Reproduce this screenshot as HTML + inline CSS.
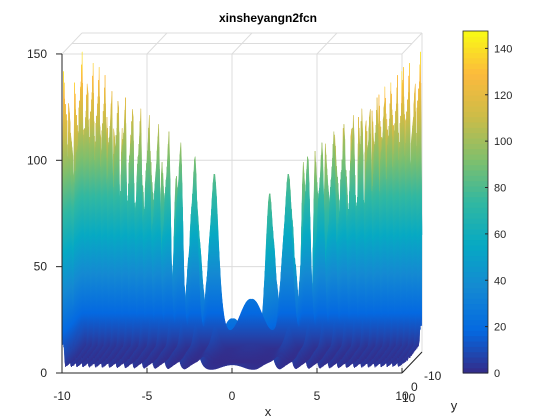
<!DOCTYPE html>
<html><head><meta charset="utf-8"><style>
body{margin:0;background:#fff}
svg{display:block;font-family:"Liberation Sans",Arial,sans-serif}
</style></head><body>
<svg id="c" width="560" height="420" viewBox="0 0 560 420">
<rect width="560" height="420" fill="#fff"/>
<defs id="defs"></defs>
<g id="grid"></g>
<g id="surf"></g>
<g id="axes"></g>
<g id="cbar"></g>
<text x="268" y="22" text-anchor="middle" font-size="12" font-weight="bold" fill="#000">xinsheyangn2fcn</text>
<text x="268" y="416" text-anchor="middle" font-size="13" fill="#262626">x</text>
<text x="454" y="410" text-anchor="middle" font-size="13" fill="#262626">y</text>
</svg>
<script>
const xRange = [-10, 10];
const yRange = [-10, 10];
const gridNx = [401];
const gridNy = [201];
const xTicks = [-10, -5, 0, 5, 10];
const zTicks = [0, 50, 100, 150];
const yTickLabels = ["-10", "0", "10"];
const cbarTicks = [0, 20, 40, 60, 80, 100, 120, 140];
const cMax = [147.5];

const NS = "http://www.w3.org/2000/svg";
function mk(tag, attrs, parent) { const e = document.createElementNS(NS, tag); for (const k in attrs) e.setAttribute(k, attrs[k]); parent.appendChild(e); return e; }
function f(x, y) { return (Math.abs(x) + Math.abs(y)) * Math.exp(-(Math.sin(x * x) + Math.sin(y * y))); }
function px(x, y, z) { return 62 + (x - xRange[0]) * 17 + (yRange[1] - y) * 1.0; }
function py(x, y, z) { return 373 - z * 2.127 - (yRange[1] - y) * 1.05; }
const stops = [[0.208,0.166,0.529],[0.016,0.412,0.882],[0.080,0.537,0.825],[0.024,0.662,0.766],[0.194,0.720,0.631],[0.502,0.749,0.424],[0.800,0.737,0.282],[0.988,0.729,0.239],[0.976,0.984,0.081]];
function parula(t) { t = Math.max(0, Math.min(1, t)); const s = t * 8, i = Math.min(7, Math.floor(s)), r = s - i; const a = stops[i], b = stops[i + 1]; return "rgb(" + [0,1,2].map(k => Math.round(255 * (a[k] + (b[k] - a[k]) * r))).join(",") + ")"; }

// grid lines
const g = document.getElementById("grid");
const gc = "#dcdcdc";
xTicks.forEach(xv => {
  const x0 = px(xv, 10, 0);
  let l = mk("line", {x1: x0, y1: py(xv,10,0), x2: x0, y2: py(xv,10,150), stroke: gc, "stroke-width": 1}, g);
  
  
  l = mk("line", {x1: x0, y1: py(xv,10,150), x2: px(xv,-10,150), y2: py(xv,-10,150), stroke: gc, "stroke-width": 1}, g);
  
  
});
zTicks.forEach(zv => {
  const l = mk("line", {x1: px(-10,10,zv), y1: py(-10,10,zv), x2: px(10,10,zv), y2: py(10,10,zv), stroke: gc, "stroke-width": 1}, g);
  
  
});
[-10, 0, 10].forEach(yv => {
  const l = mk("line", {x1: px(-10,yv,150), y1: py(-10,yv,150), x2: px(10,yv,150), y2: py(10,yv,150), stroke: gc, "stroke-width": 1}, g);
  
  
});
let le = mk("line", {x1: px(10,10,0), y1: py(10,10,0), x2: px(10,-10,0), y2: py(10,-10,0), stroke: gc}, g);


le = mk("line", {x1: px(10,-10,0), y1: py(10,-10,0), x2: px(10,-10,150), y2: py(10,-10,150), stroke: gc}, g);



let stopHtml = "";
for (let k = 0; k <= 32; k++) stopHtml += '<stop offset="' + (k / 32) + '" stop-color="' + parula(k / 32) + '"/>';

// surface
const s = document.getElementById("surf");
const defs = document.getElementById("defs");
const NX = gridNx[0], NY = gridNy[0];
const xs = [], ys = [];
for (let i = 0; i < NX; i++) xs.push(xRange[0] + (xRange[1] - xRange[0]) * i / (NX - 1));
for (let i = 0; i < NY; i++) ys.push(yRange[0] + (yRange[1] - yRange[0]) * i / (NY - 1));
const Z = ys.map(y => xs.map(x => f(x, y)));
let dh = "", html = "";
for (let j = NY - 2; j >= 0; j--) {
  const yMid = (ys[j] + ys[j + 1]) / 2;
  const y0 = py(0, yMid, 0), y1 = py(0, yMid, cMax[0]);
  dh += '<linearGradient id="g' + j + '" gradientUnits="userSpaceOnUse" x1="0" x2="0" y1="' + y0.toFixed(2) + '" y2="' + y1.toFixed(2) + '">' + stopHtml + '</linearGradient>';
  const parts = [];
  for (let i = 0; i < NX - 1; i++) {
    const a0 = px(xs[i], ys[j]).toFixed(1), a1 = px(xs[i+1], ys[j]).toFixed(1);
    const b0 = px(xs[i+1], ys[j+1]).toFixed(1), b1 = px(xs[i], ys[j+1]).toFixed(1);
    parts.push("M" + a0 + " " + py(0, ys[j], Z[j][i]).toFixed(1) + "L" + a1 + " " + py(0, ys[j], Z[j][i+1]).toFixed(1) + "L" + b0 + " " + py(0, ys[j+1], Z[j+1][i+1]).toFixed(1) + "L" + b1 + " " + py(0, ys[j+1], Z[j+1][i]).toFixed(1) + "Z");
  }
  html += '<path d="' + parts.join("") + '" fill="url(#g' + j + ')" stroke="url(#g' + j + ')" stroke-width="0.3"/>';
}
defs.innerHTML = dh;
s.innerHTML = html;

// axes
const ax = document.getElementById("axes");
const ac = "#262626";
let a = mk("line", {x1: 62, y1: py(-10,10,0), x2: 62, y2: py(-10,10,150), stroke: ac}, ax);


a = mk("line", {x1: 62, y1: 373, x2: px(10,10,0), y2: 373, stroke: ac}, ax);


a = mk("line", {x1: px(10,10,0), y1: py(10,10,0), x2: px(10,-10,0), y2: py(10,-10,0), stroke: ac}, ax);


zTicks.forEach(zv => {
  const y = py(-10,10,zv);
  const t = mk("line", {x1: 56, y1: y, x2: 62, y2: y, stroke: ac}, ax);
  
  
  const tx = mk("text", {x: 47, y: y + 4, "text-anchor": "end", "font-size": 12, fill: ac}, ax);
  tx.textContent = zv;
  
  
});
xTicks.forEach(xv => {
  const x = px(xv,10,0);
  const t = mk("line", {x1: x, y1: 373, x2: x, y2: 368, stroke: ac}, ax);
  
  
  const tx = mk("text", {x: x, y: 400, "text-anchor": "middle", "font-size": 12, fill: ac}, ax);
  tx.textContent = xv;
  
  
});
const yLabPos = [[424,380],[411,391],[402,402]];
yTickLabels.forEach((lab, k) => {
  const tx = mk("text", {x: yLabPos[k][0], y: yLabPos[k][1], "font-size": 12, fill: ac}, ax);
  tx.textContent = lab;
  
  
});

// colorbar
const cb = document.getElementById("cbar");
const cbTop = 31, cbBot = 373, cbL = 463, cbW = 25;
const nb = 64;
for (let k = 0; k < nb; k++) {
  const r = mk("rect", {x: cbL, y: cbBot - (k + 1) * (cbBot - cbTop) / nb, width: cbW, height: (cbBot - cbTop) / nb + 0.6, fill: parula((k + 0.5) / nb)}, cb);
  
  
}
const cbo = mk("rect", {x: cbL, y: cbTop, width: cbW, height: cbBot - cbTop, fill: "none", stroke: ac, "stroke-width": 0.8}, cb);


cbarTicks.forEach(v => {
  const y = cbBot - v / cMax[0] * (cbBot - cbTop);
  const t = mk("line", {x1: cbL + cbW - 3, y1: y, x2: cbL + cbW, y2: y, stroke: ac}, cb);
  
  
  const tx = mk("text", {x: 494, y: y + 4, "font-size": 11, fill: ac}, cb);
  tx.textContent = v;
  
  
});
</script>
</body></html>
